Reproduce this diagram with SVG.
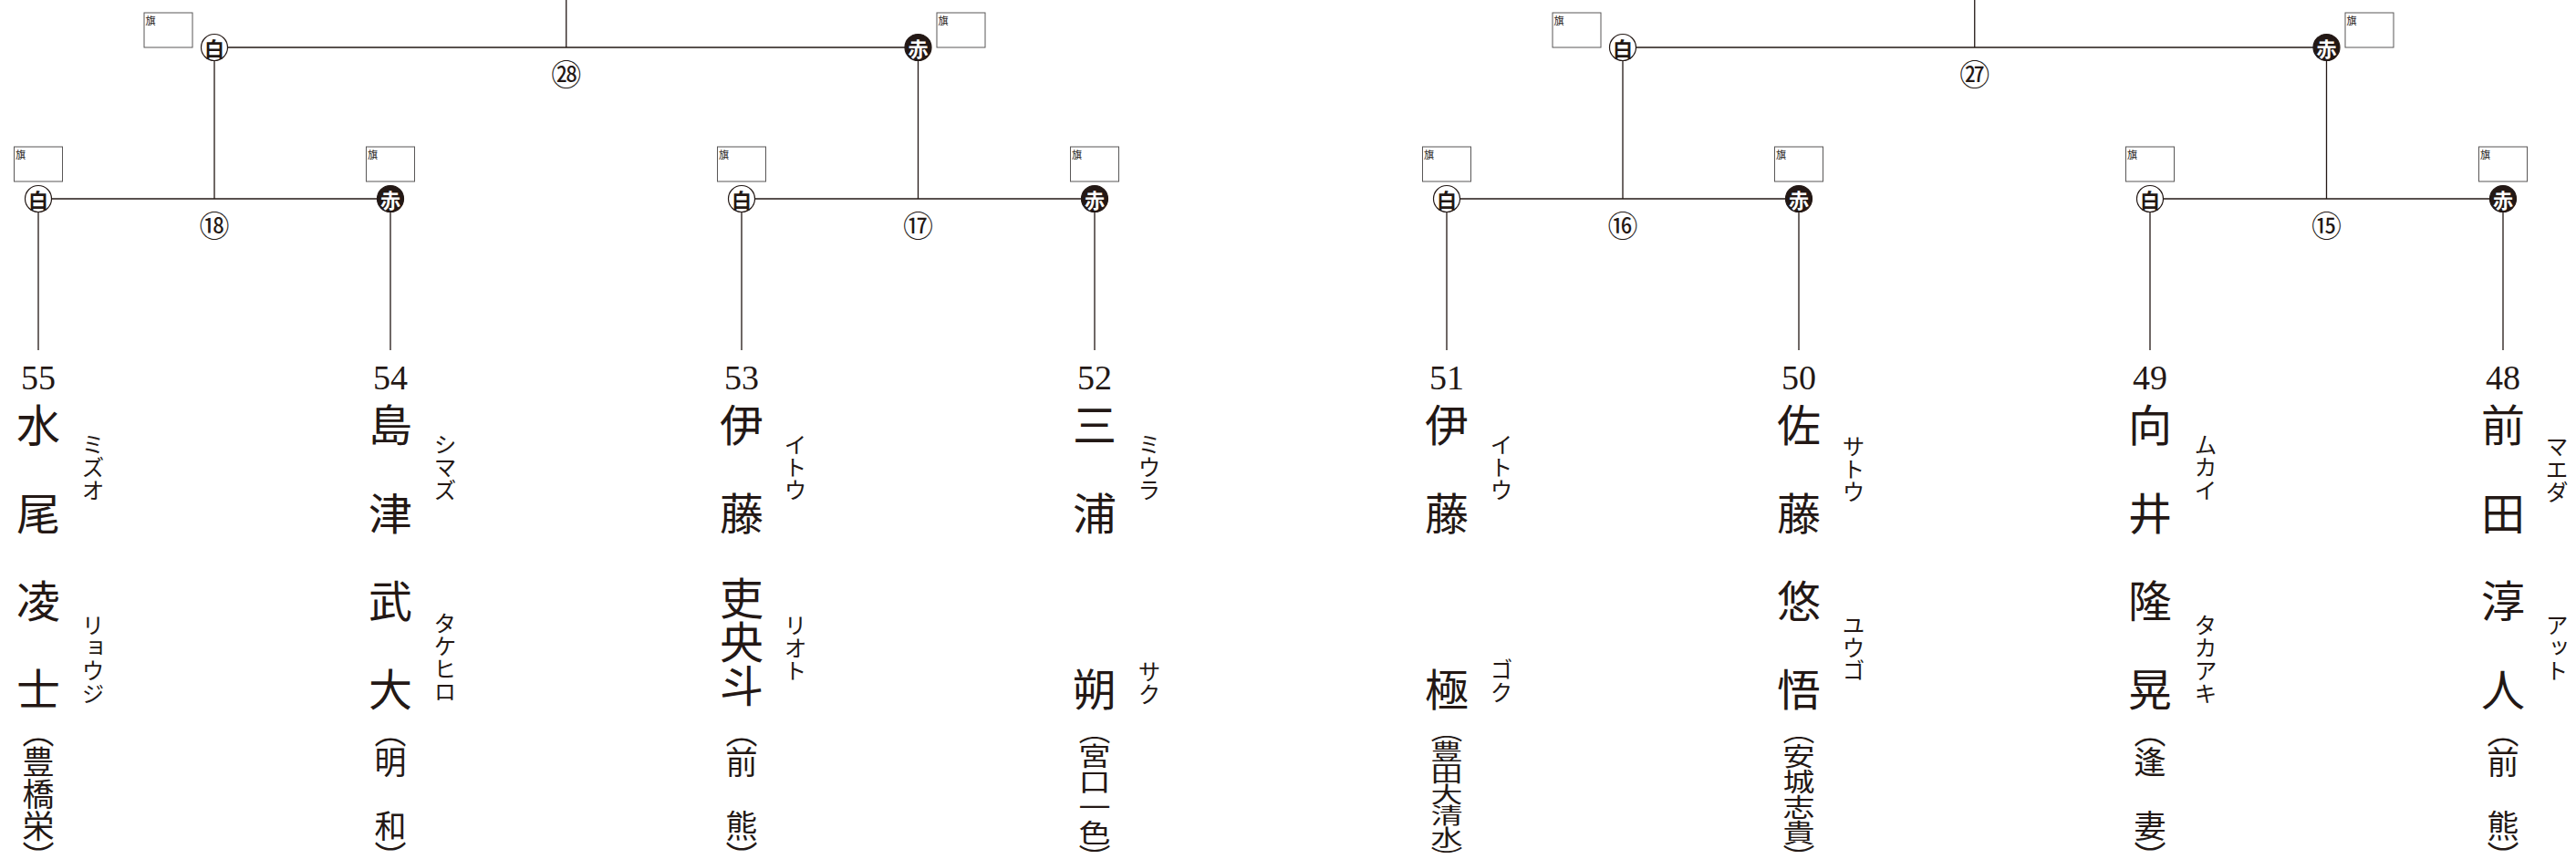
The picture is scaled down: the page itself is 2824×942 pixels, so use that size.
<svg xmlns="http://www.w3.org/2000/svg" width="2824" height="942" viewBox="0 0 2824 942">
<style>
.ln{stroke:#231815;stroke-width:1.3;fill:none}
.box{fill:#fff;stroke:#595757;stroke-width:1}
.flag{font-family:"Noto Sans CJK JP",sans-serif;font-size:11px;fill:#231815}
.wc{fill:#fff;stroke:#231815;stroke-width:1.2}
.rc{fill:#231815;stroke:#231815;stroke-width:1.2}
.sym{font-family:"Noto Sans CJK JP",sans-serif;font-weight:700;font-size:22px;text-anchor:middle;dominant-baseline:central;fill:#231815}
.rs{fill:#fff}
.num{font-family:"Liberation Serif",serif;font-size:38px;text-anchor:middle;fill:#231815}
.v{writing-mode:vertical-rl;font-family:"Noto Sans CJK JP",sans-serif;fill:#231815}
.nm{font-size:48px}
.kn{font-size:25px}
.sc{font-size:35px;font-feature-settings:"vpal"}
.cn{font-family:"Noto Sans CJK JP",sans-serif;font-size:33px;text-anchor:middle;dominant-baseline:central;fill:#231815}
</style>
<rect width="2824" height="942" fill="#fff"/>
<g id="connectors">
<path class="ln" d="M620.75 0V52M249.5 52H992M235 66.5V218M1006.5 66.5V218"/>
<path class="ln" d="M56.5 218H413.5M827.5 218H1185.5M42 232.5V384M428 232.5V384M813 232.5V384M1200 232.5V384"/>
<path class="ln" d="M2164.75 0V52M1793.5 52H2536M1779 66.5V218M2550.5 66.5V218"/>
<path class="ln" d="M1600.5 218H1957.5M2371.5 218H2729.5M1586 232.5V384M1972 232.5V384M2357 232.5V384M2744 232.5V384"/>
<text class="cn" x="620.75" y="80">㉘</text>
<text class="cn" x="235" y="246">⑱</text>
<text class="cn" x="1006.5" y="246">⑰</text>
<text class="cn" x="2164.75" y="80">㉗</text>
<text class="cn" x="1779" y="246">⑯</text>
<text class="cn" x="2550.5" y="246">⑮</text>
</g>
<g id="win28-white">
<rect class="box" x="158" y="14" width="53" height="38"/><text class="flag" x="159.5" y="26.5">旗</text>
<circle class="wc" cx="235" cy="52" r="14.5"/><text class="sym" x="235" y="52">白</text>
</g>
<g id="win28-red">
<rect class="box" x="1027" y="14" width="53" height="38"/><text class="flag" x="1028.5" y="26.5">旗</text>
<circle class="rc" cx="1006.5" cy="52" r="14.5"/><text class="sym rs" x="1006.5" y="52">赤</text>
</g>
<g id="win27-white">
<rect class="box" x="1702" y="14" width="53" height="38"/><text class="flag" x="1703.5" y="26.5">旗</text>
<circle class="wc" cx="1779" cy="52" r="14.5"/><text class="sym" x="1779" y="52">白</text>
</g>
<g id="win27-red">
<rect class="box" x="2571" y="14" width="53" height="38"/><text class="flag" x="2572.5" y="26.5">旗</text>
<circle class="rc" cx="2550.5" cy="52" r="14.5"/><text class="sym rs" x="2550.5" y="52">赤</text>
</g>
<g id="p55">
<rect class="box" x="15.5" y="161" width="53" height="38"/><text class="flag" x="17" y="173.5">旗</text>
<circle class="wc" cx="42" cy="218" r="14.5"/><text class="sym" x="42" y="218">白</text>
<text class="num" x="42" y="427">55</text>
<text class="v nm" x="42" y="442 539 635 732">水尾凌士</text>
<text class="v kn" x="102" y="475">ミズオ</text>
<text class="v kn" x="102" y="673">リョウジ</text>
<text class="v sc" x="42" y="801">（豊橋栄）</text>
</g>
<g id="p54">
<rect class="box" x="401.5" y="161" width="53" height="38"/><text class="flag" x="403" y="173.5">旗</text>
<circle class="rc" cx="428" cy="218" r="14.5"/><text class="sym rs" x="428" y="218">赤</text>
<text class="num" x="428" y="427">54</text>
<text class="v nm" x="428" y="442 539 635 732">島津武大</text>
<text class="v kn" x="488" y="475">シマズ</text>
<text class="v kn" x="488" y="671">タケヒロ</text>
<text class="v sc" x="428" y="801">（明　和）</text>
</g>
<g id="p53">
<rect class="box" x="786.5" y="161" width="53" height="38"/><text class="flag" x="788" y="173.5">旗</text>
<circle class="wc" cx="813" cy="218" r="14.5"/><text class="sym" x="813" y="218">白</text>
<text class="num" x="813" y="427">53</text>
<text class="v nm" x="813" y="442 539 632 680 728">伊藤吏央斗</text>
<text class="v kn" x="872" y="475">イトウ</text>
<text class="v kn" x="872" y="673">リオト</text>
<text class="v sc" x="813" y="801">（前　熊）</text>
</g>
<g id="p52">
<rect class="box" x="1173.5" y="161" width="53" height="38"/><text class="flag" x="1175" y="173.5">旗</text>
<circle class="rc" cx="1200" cy="218" r="14.5"/><text class="sym rs" x="1200" y="218">赤</text>
<text class="num" x="1200" y="427">52</text>
<text class="v nm" x="1200" y="442 539 732">三浦朔</text>
<text class="v kn" x="1260" y="475">ミウラ</text>
<text class="v kn" x="1260" y="724">サク</text>
<text class="v sc" transform="translate(1200 801) scale(1 0.8)" x="0" y="0">（宮口一色）</text>
</g>
<g id="p51">
<rect class="box" x="1559.5" y="161" width="53" height="38"/><text class="flag" x="1561" y="173.5">旗</text>
<circle class="wc" cx="1586" cy="218" r="14.5"/><text class="sym" x="1586" y="218">白</text>
<text class="num" x="1586" y="427">51</text>
<text class="v nm" x="1586" y="442 539 732">伊藤極</text>
<text class="v kn" x="1646" y="475">イトウ</text>
<text class="v kn" x="1646" y="722">ゴク</text>
<text class="v sc" transform="translate(1586 801) scale(1 0.667)" x="0" y="0">（豊田大清水）</text>
</g>
<g id="p50">
<rect class="box" x="1945.5" y="161" width="53" height="38"/><text class="flag" x="1947" y="173.5">旗</text>
<circle class="rc" cx="1972" cy="218" r="14.5"/><text class="sym rs" x="1972" y="218">赤</text>
<text class="num" x="1972" y="427">50</text>
<text class="v nm" x="1972" y="442 539 635 732">佐藤悠悟</text>
<text class="v kn" x="2032" y="477">サトウ</text>
<text class="v kn" x="2032" y="673">ユウゴ</text>
<text class="v sc" transform="translate(1972 801) scale(1 0.8)" x="0" y="0">（安城志貴）</text>
</g>
<g id="p49">
<rect class="box" x="2330.5" y="161" width="53" height="38"/><text class="flag" x="2332" y="173.5">旗</text>
<circle class="wc" cx="2357" cy="218" r="14.5"/><text class="sym" x="2357" y="218">白</text>
<text class="num" x="2357" y="427">49</text>
<text class="v nm" x="2357" y="442 539 635 732">向井隆晃</text>
<text class="v kn" x="2418" y="475">ムカイ</text>
<text class="v kn" x="2418" y="673">タカアキ</text>
<text class="v sc" x="2357" y="801">（逢　妻）</text>
</g>
<g id="p48">
<rect class="box" x="2717.5" y="161" width="53" height="38"/><text class="flag" x="2719" y="173.5">旗</text>
<circle class="rc" cx="2744" cy="218" r="14.5"/><text class="sym rs" x="2744" y="218">赤</text>
<text class="num" x="2744" y="427">48</text>
<text class="v nm" x="2744" y="442 539 635 732">前田淳人</text>
<text class="v kn" x="2803" y="477">マエダ</text>
<text class="v kn" x="2803" y="673">アット</text>
<text class="v sc" x="2744" y="801">（前　熊）</text>
</g>
</svg>
